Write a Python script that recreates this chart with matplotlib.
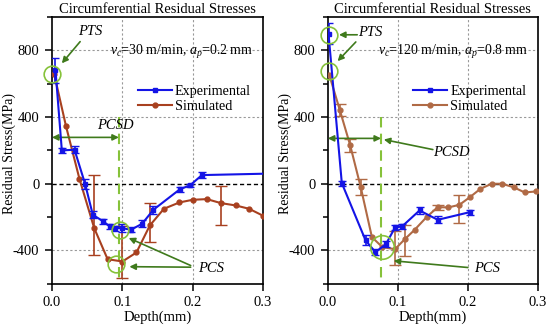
import matplotlib
matplotlib.use('Agg')
import matplotlib.pyplot as plt
import matplotlib.ticker as mticker
from matplotlib.lines import Line2D

# ── Data ────────────────────────────────────────────────────
# left panel: vc=30 m/min, ap=0.2 mm
exp1_x = [0.005, 0.014, 0.032, 0.047, 0.058, 0.073, 0.082, 0.090, 0.100, 0.112,
          0.128, 0.144, 0.182, 0.196, 0.213, 0.320]
exp1_y = [680, 200, 204, 0, -186, -226, -256, -266, -266, -276,
          -240, -156, -32, -10, 52, 62]
exp1_err = [75, 15, 20, 30, 20, 15, 15, 15, 25, 15, 20, 25, 15, 10, 20, 0]

sim1_x = [0.003, 0.020, 0.039, 0.060, 0.079, 0.100, 0.120, 0.139, 0.159, 0.181,
          0.200, 0.220, 0.240, 0.261, 0.280, 0.300]
sim1_y = [660, 344, 30, -266, -452, -466, -412, -250, -150, -112,
          -96, -92, -116, -130, -150, -192]
sim1_err_x = [0.060, 0.100, 0.139, 0.240]
sim1_err_y = [-266, -466, -250, -116]
sim1_err_lo = [160, 100, 102, 130]
sim1_err_hi = [320, 210, 134, 100]

# right panel: vc=120 m/min, ap=0.8 mm
exp2_x = [0.001, 0.020, 0.054, 0.068, 0.083, 0.096, 0.106, 0.131, 0.157, 0.203]
exp2_y = [900, 4, -340, -410, -362, -262, -256, -160, -216, -170]
exp2_err = [65, 15, 30, 20, 20, 15, 15, 20, 20, 15]

sim2_x = [0.002, 0.017, 0.032, 0.047, 0.063, 0.078, 0.096, 0.110, 0.124, 0.141,
          0.157, 0.172, 0.188, 0.203, 0.218, 0.234, 0.249, 0.266, 0.281, 0.298]
sim2_y = [654, 444, 230, -20, -320, -380, -392, -332, -276, -200,
          -140, -142, -126, -80, -30, 0, 0, -22, -52, -46]
sim2_err_x = [0.017, 0.032, 0.047, 0.096, 0.110, 0.157, 0.188]
sim2_err_y = [444, 230, -20, -392, -332, -140, -126]
sim2_err_lo = [36, 40, 50, 94, 104, 15, 110]
sim2_err_hi = [34, 40, 50, 110, 86, 15, 58]

# ── Colours ─────────────────────────────────────────────────
BLUE = '#1414e6'
BROWN1 = '#a8401f'
BROWN2 = '#b06a45'
DKGREEN = '#3f7a1c'
LTGREEN = '#86c23a'

plt.rcParams.update({
    'font.family': 'Liberation Serif',
    'font.size': 10.5,
    'axes.unicode_minus': False,
    'mathtext.fontset': 'custom',
    'mathtext.rm': 'Liberation Serif',
    'mathtext.it': 'Liberation Serif:italic',
})

fig = plt.figure(figsize=(5.5, 3.32), dpi=100)
ax1 = fig.add_axes([0.0945, 0.145, 0.384, 0.804])
ax2 = fig.add_axes([0.596, 0.145, 0.382, 0.804])


def style_axes(ax):
    ax.set_xlim(0, 0.3)
    ax.set_ylim(-600, 1000)
    ax.set_xticks([0.0, 0.1, 0.2, 0.3])
    ax.xaxis.set_major_formatter(mticker.FormatStrFormatter('%.1f'))
    ax.set_yticks([-400, 0, 400, 800])
    ax.yaxis.set_minor_locator(mticker.MultipleLocator(200))
    ax.tick_params(direction='out', length=5, width=1.1, pad=4)
    ax.tick_params(which='minor', direction='out', length=3.5, width=1.1)
    for s in ax.spines.values():
        s.set_linewidth(1.2)
    for gx in [0.1, 0.2]:
        ax.axvline(gx, color='#999999', lw=0.8, ls=(0, (2, 2)), zorder=0)
    for gy in [-400, 400, 800]:
        ax.axhline(gy, color='#999999', lw=0.8, ls=(0, (2, 2)), zorder=0)
    ax.axhline(0, color='black', lw=1.0, ls=(0, (3, 2)), zorder=1)
    ax.set_xlabel('Depth(mm)', labelpad=1)
    ax.set_ylabel('Residual Stress(MPa)', fontsize=10)
    ax.yaxis.set_label_coords(-0.172, 0.49)
    ax.set_title('Circumferential Residual Stresses', fontsize=10.5, pad=3)


def add_legend(ax, sim_color):
    handles = [Line2D([], [], color=BLUE, lw=1.5, marker='s', ms=3.5),
               Line2D([], [], color=sim_color, lw=1.5, marker='o', ms=3.5)]
    ax.legend(handles, ['Experimental', 'Simulated'], loc='upper left',
              bbox_to_anchor=(0.38, 0.765), frameon=False, handlelength=2.4,
              handletextpad=0.2, labelspacing=0.15, borderaxespad=0,
              fontsize=10.2)


def circle(ax, x, y, size=12):
    ax.plot(x, y, marker='o', ms=size, mfc='none', mec=LTGREEN, mew=1.2,
            zorder=6, clip_on=False)


def arrow(ax, xy, xytext):
    ax.annotate('', xy=xy, xytext=xytext,
                arrowprops=dict(arrowstyle='-|>', color=DKGREEN, lw=1.2,
                                mutation_scale=9, shrinkA=0, shrinkB=0))


def double_arrow(ax, x_end, y):
    ax.annotate('', xy=(x_end, y), xytext=(0.0, y),
                arrowprops=dict(arrowstyle='<|-|>', color=DKGREEN, lw=1.2,
                                mutation_scale=9, shrinkA=0, shrinkB=0))


# ── Left panel ──────────────────────────────────────────────
style_axes(ax1)
ax1.errorbar(exp1_x, exp1_y, yerr=exp1_err, color=BLUE, lw=1.5, marker='s',
             ms=3.5, capsize=3, elinewidth=1.2, zorder=4)
ax1.plot(sim1_x, sim1_y, color=BROWN1, lw=1.5, marker='o', ms=3.5, zorder=3)
ax1.errorbar(sim1_err_x, sim1_err_y, yerr=[sim1_err_lo, sim1_err_hi], fmt='none',
             ecolor=BROWN1, elinewidth=1.2, capsize=4, zorder=3)

ax1.text(0.082, 790, r'$v_c$=30 m/min, $a_p$=0.2 mm', fontsize=10, va='center')
add_legend(ax1, BROWN1)

# PTS
circle(ax1, 0.0, 660)
ax1.text(0.054, 910, 'PTS', style='italic', ha='center', va='center')
arrow(ax1, (0.014, 722), (0.04, 852))
# PCSD
ax1.plot([0.095, 0.095], [400, -600], color=LTGREEN, lw=1.5, ls=(0, (5, 3)),
         zorder=2)
double_arrow(ax1, 0.095, 278)
ax1.text(0.09, 348, 'PCSD', style='italic', ha='center', va='center')
# PCS
circle(ax1, 0.097, -280)
circle(ax1, 0.091, -480)
ax1.text(0.226, -505, 'PCS', style='italic', ha='center', va='center')
arrow(ax1, (0.109, -325), (0.197, -490))
arrow(ax1, (0.11, -497), (0.197, -500))

# ── Right panel ─────────────────────────────────────────────
style_axes(ax2)
ax2.errorbar(exp2_x, exp2_y, yerr=exp2_err, color=BLUE, lw=1.5, marker='s',
             ms=3.5, capsize=3, elinewidth=1.2, zorder=4)
ax2.plot(sim2_x, sim2_y, color=BROWN2, lw=1.5, marker='o', ms=3.5, zorder=3)
ax2.errorbar(sim2_err_x, sim2_err_y, yerr=[sim2_err_lo, sim2_err_hi], fmt='none',
             ecolor=BROWN2, elinewidth=1.2, capsize=4, zorder=3)

ax2.text(0.072, 790, r'$v_c$=120 m/min, $a_p$=0.8 mm', fontsize=10, va='center')
add_legend(ax2, BROWN2)

# PTS
circle(ax2, 0.001, 893)
circle(ax2, 0.002, 673)
ax2.text(0.06, 905, 'PTS', style='italic', ha='center', va='center')
arrow(ax2, (0.016, 893), (0.042, 893))
arrow(ax2, (0.014, 735), (0.040, 850))
# PCSD
ax2.plot([0.076, 0.076], [400, -600], color=LTGREEN, lw=1.5, ls=(0, (5, 3)),
         zorder=2)
double_arrow(ax2, 0.076, 272)
ax2.text(0.177, 186, 'PCSD', style='italic', ha='center', va='center')
arrow(ax2, (0.08, 265), (0.150, 205))
# PCS
circle(ax2, 0.078, -380, size=17)
ax2.text(0.227, -505, 'PCS', style='italic', ha='center', va='center')
arrow(ax2, (0.094, -462), (0.200, -502))

fig.savefig('out.png', dpi=100)
